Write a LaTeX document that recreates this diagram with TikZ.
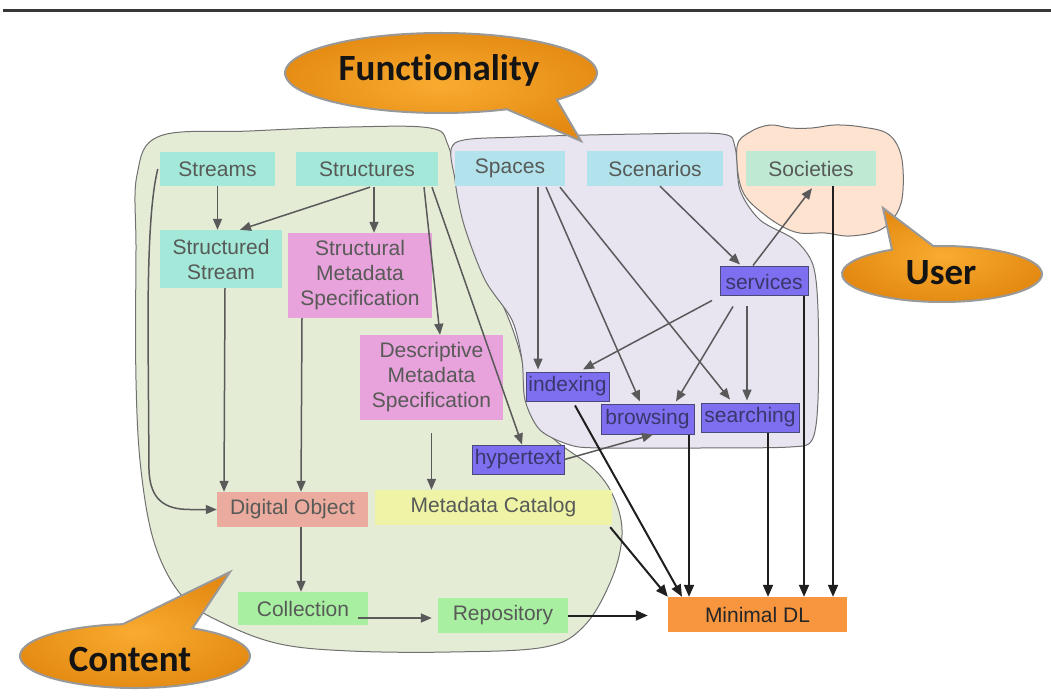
\documentclass[tikz,border=0pt]{standalone}
\usepackage{fontspec}
\setmainfont{Liberation Sans}
\newfontfamily\calloutfont[Ligatures=CommonOff]{Carlito}
\usetikzlibrary{arrows.meta,calc}
\definecolor{tealbox}{HTML}{A3E8D8}
\definecolor{pinkbox}{HTML}{E8A2DC}
\definecolor{cyanbox}{HTML}{B2E3EC}
\definecolor{mintbox}{HTML}{BFE9D3}
\definecolor{purplebox}{HTML}{7D6FF0}
\definecolor{purpleedge}{HTML}{4A4A7A}
\definecolor{salmonbox}{HTML}{EBAB9E}
\definecolor{yellowbox}{HTML}{EEF3A5}
\definecolor{greenbox}{HTML}{A9EFA2}
\definecolor{orangebox}{HTML}{F8963F}
\definecolor{txtgray}{HTML}{575A57}
\definecolor{txtpurple}{HTML}{3A376A}
\definecolor{blobgreen}{HTML}{E4ECD6}
\definecolor{bloblav}{HTML}{E8E4F0}
\definecolor{blobpeach}{HTML}{FDE3D0}
\definecolor{blobedge}{HTML}{707070}
\definecolor{arrgray}{HTML}{5A5A5A}
\definecolor{callin}{HTML}{F9AB30}
\definecolor{callout}{HTML}{E48A12}
\begin{document}
\begin{tikzpicture}[x=1pt,y=-1pt,
  lbl/.style={inner sep=0pt, align=center, font=\fontsize{21}{25}\selectfont, text=txtgray},
  teal/.style={lbl, fill=tealbox},
  pink/.style={lbl, fill=pinkbox},
  cyan/.style={lbl, fill=cyanbox},
  mint/.style={lbl, fill=mintbox},
  purp/.style={lbl, fill=purplebox, draw=purpleedge, line width=1pt, text=txtpurple},
  salmon/.style={lbl, fill=salmonbox},
  yell/.style={lbl, fill=yellowbox},
  grn/.style={lbl, fill=greenbox},
  orng/.style={lbl, fill=orangebox, text=black!85},
  blob/.style={draw=blobedge, line width=1pt},
  arr/.style={draw=arrgray, line width=1.5pt, -{Triangle[length=11pt,width=9pt]}},
  blk/.style={draw=black!88, line width=2pt, -{Triangle[length=12pt,width=10pt]}},
  bubble/.style={inner color=callin, outer color=callout, draw=black!40, line width=2pt},
  calltext/.style={font=\calloutfont\bfseries\fontsize{37}{42}\selectfont, text=black!92, inner sep=0pt}
]
\useasboundingbox (0,0) rectangle (1051,700);
\fill[white] (0,0) rectangle (1051,700);
\draw[line width=3pt, black!78] (3,11) -- (1051,11);

% blobs
\draw[blob, fill=blobgreen] plot[smooth cycle, tension=0.6] coordinates {
 (160,136) (250,131) (350,127) (430,128) (448,145) (458,190) (475,250) (505,310)
 (522,360) (530,410) (555,440) (595,470) (615,500) (622,535) (612,578) (585,625)
 (545,647) (450,652) (350,651) (280,644) (225,624) (183,597) (155,545) (141,470)
 (136,380) (136,250) (137,175)};
\draw[blob, fill=blobpeach] plot[smooth cycle, tension=0.6] coordinates {
 (737,147) (750,132) (770,125) (790,128) (812,128) (835,125) (862,127) (888,134)
 (901,155) (903,190) (897,213) (880,230) (850,236) (825,233) (795,232) (765,215) (742,190)};
\draw[blob, fill=bloblav] plot[smooth cycle, tension=0.5] coordinates {
 (455,143) (520,137) (640,134) (722,134) (735,147) (740,190) (760,220) (795,240)
 (813,265) (818,310) (818,400) (812,440) (790,447) (700,448) (600,448) (570,445)
 (540,430) (525,400) (522,360) (512,320) (485,280) (464,225) (455,180)};

% nodes
\node[teal, minimum width=115pt, minimum height=34pt] (Streams) at (217.5,169) {Streams};
\node[teal, minimum width=142pt, minimum height=34pt] (Structures) at (367,169) {Structures};
\node[teal, minimum width=122pt, minimum height=58pt] (StructuredStream) at (221,259) {Structured\\Stream};
\node[pink, minimum width=144pt, minimum height=85pt] (StructuralMeta) at (360,275.5) {Structural\\Metadata\\Specification};
\node[pink, minimum width=143pt, minimum height=85pt] (DescriptiveMeta) at (431.5,377.5) {Descriptive\\Metadata\\Specification};
\node[purp, minimum width=92pt, minimum height=29pt] (Hypertext) at (518,459.5) {hypertext};
\node[purp, minimum width=83pt, minimum height=29pt] (Indexing) at (567.5,386.5) {indexing};
\node[purp, minimum width=93pt, minimum height=30pt] (Browsing) at (647.5,419) {browsing};
\node[purp, minimum width=98pt, minimum height=29pt] (Searching) at (750,417.5) {searching};
\node[cyan, minimum width=110pt, minimum height=35pt] (Spaces) at (510,168.5) {Spaces};
\node[cyan, minimum width=136pt, minimum height=35pt] (Scenarios) at (655,168.5) {Scenarios};
\node[purp, minimum width=88pt, minimum height=29pt] (Services) at (764,281.5) {services};
\node[mint, minimum width=130pt, minimum height=35pt] (Societies) at (811,168.5) {Societies};
\node[salmon, minimum width=151pt, minimum height=35pt] (DigitalObject) at (292.5,509.5) {Digital Object};
\node[yell, minimum width=237pt, minimum height=35pt] (MetadataCatalog) at (493.5,507.5) {Metadata Catalog};
\node[grn, minimum width=130pt, minimum height=33pt] (Collection) at (303,608.5) {Collection};
\node[grn, minimum width=130pt, minimum height=35pt] (Repository) at (503,615.5) {Repository};
\node[orng, minimum width=179pt, minimum height=35pt] (MinimalDL) at (757.5,614.5) {Minimal DL};

% gray connectors
\draw[arr] ($(Streams.west)+(-2,0)$) .. controls (150,200) and (148,260) .. (148,330) -- (149,470) .. controls (150,500) and (165,509.5) .. (190,509.5) -- (DigitalObject.west);
\draw[arr] (Streams.south) -- (Streams.south |- StructuredStream.north);
\draw[arr] ($(Structures.south)+(3,1)$) -- ($(StructuredStream.north)+(19,0)$);
\draw[arr] ($(Structures.south)+(7,1)$) -- ($(StructuralMeta.north)+(14,0)$);
\draw[arr] ($(Structures.south)+(57,1)$) -- ($(DescriptiveMeta.north)+(8.5,0)$);
\draw[arr] ($(Structures.south)+(65,1)$) -- ($(Hypertext.north)+(4,0)$);
\draw[arr] ($(StructuredStream.south)+(4,0)$) -- ($(DigitalObject.north)+(-68.5,0)$);
\draw[arr] ($(StructuralMeta.south)+(-58,0)$) -- ($(DigitalObject.north)+(8.5,0)$);
\draw[arr] ($(DescriptiveMeta.south)+(0,13)$) -- (MetadataCatalog.north -| DescriptiveMeta.south);
\draw[arr] ($(DigitalObject.south)+(8.5,0)$) -- ($(Collection.north)+(-2,0)$);
\draw[arr] ($(Collection.east)+(-10,9.5)$) -- ($(Repository.west)+(-6,2.5)$);
\draw[arr] ($(Spaces.south)+(28,1)$) -- ($(Indexing.north)+(-29.5,-2)$);
\draw[arr] ($(Spaces.south)+(36,1)$) -- ($(Browsing.north)+(-7.5,-2)$);
\draw[arr] ($(Spaces.south)+(50,1)$) -- ($(Searching.north)+(-20,-3)$);
\draw[arr] ($(Scenarios.south)+(5,0)$) -- ($(Services.north)+(-24,-2)$);
\draw[arr] ($(Services.north)+(-11,-1)$) -- ($(Societies.south)+(1,2)$);
\draw[arr] ($(Services.south)+(-52,4)$) -- ($(Indexing.north)+(15.5,-2)$);
\draw[arr] ($(Services.south)+(-31,10)$) -- ($(Browsing.north)+(28.5,-2)$);
\draw[arr] ($(Services.south)+(-17,10)$) -- ($(Searching.north)+(-3,-2)$);
\draw[arr] (Hypertext.east) -- ($(Browsing.south)+(5.5,0)$);

% black connectors to Minimal DL
\draw[blk] (Repository.east) -- ($(Repository.east -| MinimalDL.west)+(-20,0)$);
\draw[blk] ($(MetadataCatalog.south east)+(-2,2)$) -- (MinimalDL.north west);
\draw[blk] ($(Indexing.south)+(7.5,4)$) -- ($(MinimalDL.north)+(-75.5,0)$);
\draw[blk] ($(Browsing.south)+(41.5,0)$) -- ($(MinimalDL.north)+(-68.5,0)$);
\draw[blk] ($(Searching.south)+(18,0)$) -- ($(MinimalDL.north)+(10.5,0)$);
\draw[blk] ($(Services.south)+(40,0)$) -- ($(MinimalDL.north)+(46.5,0)$);
\draw[blk] ($(Societies.south)+(22,0)$) -- ($(MinimalDL.north)+(75.5,0)$);

% callouts
\coordinate (FuncTip) at (581,141);
\path[bubble] ({441+156*cos(65)},{73+40*sin(65)}) -- (FuncTip) -- ({441+156*cos(42)},{73+40*sin(42)})
  arc[start angle=42, end angle=-295, x radius=156, y radius=40] -- cycle;
\node[calltext] (Functionality) at (439,70) {Functionality};

\coordinate (UserTip) at (883,208);
\path[bubble] ({942+100*cos(-120)},{274+28*sin(-120)}) -- (UserTip) -- ({942+100*cos(-95)},{274+28*sin(-95)})
  arc[start angle=-95, end angle=240, x radius=100, y radius=28] -- cycle;
\node[calltext] (User) at (941,273) {User};

\coordinate (ContentTip) at (230,572);
\path[bubble] ({135+115*cos(-96)},{656+32*sin(-96)}) -- (ContentTip) -- ({135+115*cos(-60)},{656+32*sin(-60)})
  arc[start angle=-60, end angle=264, x radius=115, y radius=32] -- cycle;
\node[calltext] (Content) at (130,659) {Content};
\end{tikzpicture}
\end{document}
